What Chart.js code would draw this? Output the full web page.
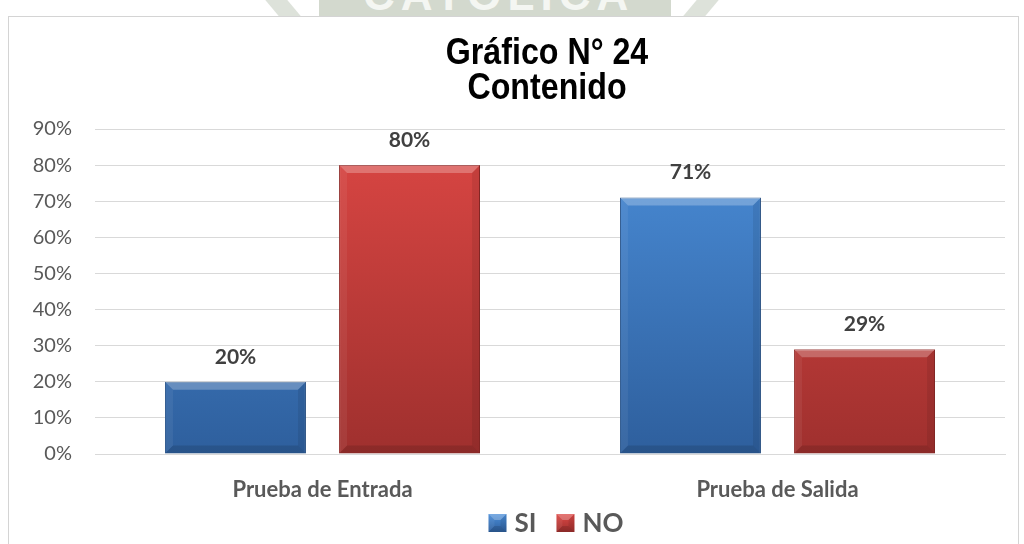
<!DOCTYPE html>
<html>
<head>
<meta charset="utf-8">
<script src="https://cdn.jsdelivr.net/npm/chart.js@4.4.1/dist/chart.umd.min.js"></script>
<style>
  body { margin: 0; background: #fff; width: 1024px; height: 544px; overflow: hidden; position: relative; }
  #band { position: absolute; left: 319px; top: 0; width: 352px; height: 16px; background: #d3d9ce; overflow: hidden; }
  #band span { position: absolute; left: 44px; top: -30px; font: bold 44px 'Liberation Sans'; letter-spacing: 6px; color: #f4f6f2; white-space: nowrap; }
  .stroke { position: absolute; top: 0; width: 22px; height: 16px; background: #dde2da; }
  #s1 { left: 272px; transform: skewX(40deg); }
  #s2 { left: 690px; transform: skewX(-40deg); }
  #frame { position: absolute; left: 8px; top: 16px; width: 1009px; height: 530px; border: 1px solid #d4d4d4; background: #fff; }
  canvas { display: block; }
</style>
</head>
<body>
<div class="stroke" id="s1"></div>
<div id="band"><span>CATOLICA</span></div>
<div class="stroke" id="s2"></div>
<div id="frame"><canvas id="chart" width="1009" height="530"></canvas></div>
<script>
const titleLines = ['Gráfico N° 24', 'Contenido'];
const categories = ['Prueba de Entrada', 'Prueba de Salida'];
const seriesNames = ['SI', 'NO'];
const siValues = [20, 71];
const noValues = [80, 29];
const yTicks = [0, 10, 20, 30, 40, 50, 60, 70, 80, 90];

const blue = { top: '#4b8ed9', bottom: '#2e5f9d', edge: '#2a558c' };
const red = { top: '#dc4744', bottom: '#9f302e', edge: '#8e2a28' };

function barGradient(c) {
    return (ctx) => {
        const area = ctx.chart.chartArea;
        if (!area) return c.top;
        const g = ctx.chart.ctx.createLinearGradient(0, area.top, 0, area.bottom);
        g.addColorStop(0, c.top);
        g.addColorStop(1, c.bottom);
        return g;
    };
}

function bevel(ctx, l, t, r, bt, b) {
    ctx.save();
    ctx.fillStyle = 'rgba(255,255,255,0.25)';
    ctx.beginPath();
    ctx.moveTo(l, t); ctx.lineTo(r, t); ctx.lineTo(r - b, t + b); ctx.lineTo(l + b, t + b);
    ctx.fill();
    ctx.fillStyle = 'rgba(0,0,0,0.12)';
    ctx.beginPath();
    ctx.moveTo(l, bt); ctx.lineTo(r, bt); ctx.lineTo(r - b, bt - b); ctx.lineTo(l + b, bt - b);
    ctx.fill();
    ctx.fillStyle = 'rgba(0,0,0,0.08)';
    ctx.beginPath();
    ctx.moveTo(r, t); ctx.lineTo(r, bt); ctx.lineTo(r - b, bt - b); ctx.lineTo(r - b, t + b);
    ctx.fill();
    ctx.fillStyle = 'rgba(255,255,255,0.06)';
    ctx.beginPath();
    ctx.moveTo(l, t); ctx.lineTo(l, bt); ctx.lineTo(l + b, bt - b); ctx.lineTo(l + b, t + b);
    ctx.fill();
    ctx.restore();
}

const bevelPlugin = {
    id: 'bevel',
    afterDatasetsDraw(chart) {
        chart.data.datasets.forEach((ds, i) => {
            chart.getDatasetMeta(i).data.forEach(bar => {
                bevel(chart.ctx, bar.x - bar.width / 2, bar.y, bar.x + bar.width / 2, bar.base, 8);
            });
        });
    }
};

const valueLabels = {
    id: 'valueLabels',
    afterDatasetsDraw(chart) {
        const ctx = chart.ctx;
        ctx.save();
        ctx.font = 'bold 21px Lato';
        ctx.fillStyle = '#404040';
        ctx.textAlign = 'center';
        ctx.textBaseline = 'middle';
        chart.data.datasets.forEach((ds, i) => {
            chart.getDatasetMeta(i).data.forEach((bar, j) => {
                ctx.fillText(ds.data[j] + '%', bar.x, bar.y - 25);
            });
        });
        ctx.restore();
    }
};

// title + legend centred over the plot area, the way the office chart does it
const titleLegend = {
    id: 'titleLegend',
    afterDraw(chart) {
        const ctx = chart.ctx;
        const cx = (chart.chartArea.left + chart.chartArea.right) / 2;
        ctx.save();
        ctx.fillStyle = '#000';
        ctx.textAlign = 'center';
        ctx.textBaseline = 'alphabetic';
        ctx.font = 'bold 37px "Liberation Sans"';
        titleLines.forEach((line, i) => {
            ctx.save();
            ctx.translate(cx - 3, 47 + i * 35);
            ctx.scale(0.87, 1);
            ctx.fillText(line, 0, 0);
            ctx.restore();
        });

        ctx.font = 'bold 26px Lato';
        ctx.textBaseline = 'middle';
        ctx.textAlign = 'left';
        const box = 18, gap = 8, between = 20;
        const colors = [blue, red];
        const widths = seriesNames.map(n => box + gap + ctx.measureText(n).width);
        const total = widths.reduce((a, b) => a + b, 0) + between;
        let x = cx + 6 - total / 2;
        const y = 506;
        seriesNames.forEach((name, i) => {
            const g = ctx.createLinearGradient(0, y - box / 2, 0, y + box / 2);
            g.addColorStop(0, colors[i].top);
            g.addColorStop(1, colors[i].bottom);
            ctx.fillStyle = g;
            ctx.fillRect(x, y - box / 2, box, box);
            bevel(ctx, x, y - box / 2, x + box, y + box / 2, 6);
            ctx.fillStyle = '#595959';
            ctx.fillText(name, x + box + gap, y + 1);
            x += widths[i] + between;
        });
        ctx.restore();
    }
};

new Chart(document.getElementById('chart'), {
    type: 'bar',
    data: {
        labels: categories,
        datasets: [
            { label: seriesNames[0], data: siValues, backgroundColor: barGradient(blue), borderColor: blue.edge, borderWidth: 1 },
            { label: seriesNames[1], data: noValues, backgroundColor: barGradient(red), borderColor: red.edge, borderWidth: 1 }
        ]
    },
    options: {
        responsive: false,
        animation: false,
        categoryPercentage: 0.765,
        barPercentage: 0.81,
        layout: { padding: { left: 9, right: 13, top: 112, bottom: 33 } },
        plugins: {
            title: { display: false },
            legend: { display: false },
            tooltip: { enabled: false }
        },
        scales: {
            y: {
                min: 0,
                max: 90,
                afterBuildTicks: (axis) => { axis.ticks = yTicks.map(v => ({ value: v })); },
                afterFit: (axis) => { axis.width = 77; },
                grid: { color: '#d9d9d9', lineWidth: 1, drawTicks: false },
                border: { display: false },
                ticks: {
                    color: '#595959',
                    font: { family: 'Lato', size: 20 },
                    padding: 23,
                    callback: v => v + '%'
                }
            },
            x: {
                afterFit: (axis) => { axis.height = 60; },
                grid: { display: false },
                border: { color: '#d9d9d9' },
                ticks: {
                    color: '#595959',
                    font: { family: 'Lato', weight: 'bold', size: 22 },
                    padding: 15
                }
            }
        }
    },
    plugins: [bevelPlugin, valueLabels, titleLegend]
});
</script>
</body>
</html>
